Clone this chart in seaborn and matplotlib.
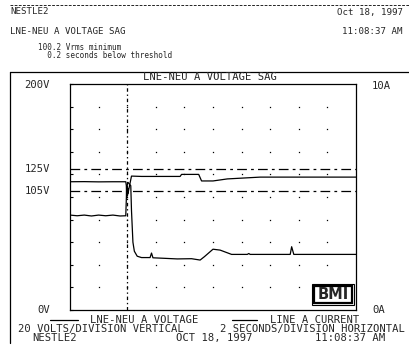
import numpy as np
import matplotlib
matplotlib.use("Agg")
import matplotlib.pyplot as plt
import seaborn as sns
from matplotlib.lines import Line2D
from matplotlib.patches import Rectangle
import matplotlib.transforms as mtransforms

# ---------------- data ----------------
time_v = [0, 1, 2, 3, 3.9, 3.94, 3.96, 3.98, 4.0, 4.01, 4.02, 4.03, 4.04, 4.05, 4.07, 4.1,
          4.3, 5, 7.7, 7.8, 9.0, 9.2, 10.0, 11.0, 13.3, 20]
volts = [113.5, 113.6, 113.4, 113.5, 113.5, 110, 100.2, 110, 101, 109, 102, 108, 103, 107,
         104, 106, 118.5, 118.2, 118.2, 120.0, 120.0, 114.2, 114.2, 116, 117.6, 117.6]

time_a = [0, 0.5, 1, 1.5, 2, 2.5, 3, 3.5, 3.9, 3.97, 4.05, 4.25, 4.3, 4.4, 4.5, 4.7, 5.0, 5.6,
          5.7, 5.8, 6.5, 7.5, 8.5, 9.1, 9.4, 10.0, 10.5, 11.3, 12.4, 12.5, 12.6, 15.4, 15.5,
          15.65, 17, 20]
amps = [4.2, 4.17, 4.2, 4.16, 4.2, 4.17, 4.2, 4.16, 4.17, 5.5, 5.65, 5.5, 4.4, 3.0, 2.6, 2.38,
        2.32, 2.32, 2.52, 2.31, 2.29, 2.26, 2.27, 2.21, 2.36, 2.69, 2.65, 2.46, 2.46, 2.5, 2.46,
        2.46, 2.80, 2.46, 2.46, 2.46]

volt_ticks = [200, 125, 105, 0]
volt_tick_labels = ["200V", "125V", "105V", "0V"]
amp_ticks = [10, 0]
amp_tick_labels = ["10A", "0A"]
threshold_high = 125
threshold_low = 105
trigger_time = 4.0

header_site = "NESTLE2"
header_date = "Oct 18, 1997"
header_title = "LNE-NEU A VOLTAGE SAG"
header_time = "11:08:37 AM"
summary_lines = ["100.2 Vrms minimum", "  0.2 seconds below threshold"]
chart_title = "LNE-NEU A VOLTAGE SAG"
legend_labels = ["LNE-NEU A VOLTAGE", "LINE A CURRENT"]
scale_v = "20 VOLTS/DIVISION VERTICAL"
scale_h = "2 SECONDS/DIVISION HORIZONTAL"
footer = ["NESTLE2", "OCT 18, 1997", "11:08:37 AM"]

# ---------------- figure ----------------
sns.set_style("white")
plt.rcParams["font.family"] = ["DejaVu Sans Mono", "DejaVu Sans"]
plt.rcParams["lines.scale_dashes"] = False

W, H = 409, 351
fig = plt.figure(figsize=(W / 100, H / 100), dpi=100)
fig.patch.set_facecolor("white")


def fx(x):
    return x / W


def fy(y):
    return 1 - y / H


L, R, T, B = 70, 356, 84, 310
ax = fig.add_axes([fx(L), fy(B), (R - L) / W, (B - T) / H])
ax.set_xlim(0, 20)
ax.set_ylim(0, 200)

sns.lineplot(x=time_v, y=volts, ax=ax, color="black", lw=0.9, estimator=None, sort=False)
ax.axhline(threshold_high, color="black", lw=0.9, dashes=(7, 3, 2, 3))
ax.axhline(threshold_low, color="black", lw=0.9, dashes=(7, 3, 2, 3))
ax.axvline(trigger_time, color="black", lw=0.9, dashes=(2.5, 2, 1, 2))

gx, gy = np.meshgrid(np.arange(2, 20, 2), np.arange(20, 200, 20))
ax.plot(gx.ravel(), gy.ravel(), linestyle="none", marker="s", markersize=0.9,
        markeredgewidth=0, color="black")

ax.set_xticks(np.arange(0, 21, 2))
ax.set_yticks(np.arange(0, 201, 20))
ax.tick_params(direction="in", length=2.5, width=0.8, top=True, right=True,
               labelleft=False, labelbottom=False, color="black")
for s in ax.spines.values():
    s.set_visible(True)
    s.set_color("black")
    s.set_linewidth(0.9)

ax2 = ax.twinx()
ax2.set_ylim(0, 10)
sns.lineplot(x=time_a, y=amps, ax=ax2, color="black", lw=0.9, estimator=None, sort=False)
ax2.set_yticks([])
ax2.set_xticks([])
ax2.set_ylabel("")
for s in ax2.spines.values():
    s.set_visible(False)
ax.set_xlabel("")
ax.set_ylabel("")

fs_chart = 7.6
trans_v = mtransforms.blended_transform_factory(fig.transFigure, ax.transData)
for v, lab in zip(volt_ticks, volt_tick_labels):
    off = -1.5 if v == 200 else 0
    ax.text(fx(50), v + off * 200 / 226, lab, transform=trans_v, ha="right", va="center",
            fontsize=fs_chart)
trans_a = mtransforms.blended_transform_factory(fig.transFigure, ax2.transData)
for v, lab in zip(amp_ticks, amp_tick_labels):
    off = -0.07 if v == 10 else 0
    ax2.text(fx(372), v + off, lab, transform=trans_a, ha="left", va="center", fontsize=fs_chart)

# BMI logo
ax.add_patch(Rectangle((0.845, 0.022), 0.148, 0.095, transform=ax.transAxes, fc="white",
                       ec="black", lw=0.8, zorder=5))
ax.add_patch(Rectangle((0.853, 0.033), 0.132, 0.073, transform=ax.transAxes, fc="white",
                       ec="black", lw=1.6, zorder=6))
ax.text(0.919, 0.07, "BMI", transform=ax.transAxes, ha="center", va="center",
        fontsize=10.5, fontweight="bold", family="DejaVu Sans", zorder=7)

# frame lines
fig.add_artist(Line2D([fx(10), fx(10)], [fy(72), fy(343)], color="black", lw=0.9))
fig.add_artist(Line2D([fx(10), fx(409)], [fy(72), fy(72)], color="black", lw=0.9))
fig.add_artist(Line2D([fx(10), fx(409)], [fy(5), fy(5)], color="black", lw=0.6,
                      dashes=(2, 1)))

# header
fs_head = 6.6
fig.text(fx(10), fy(12), header_site, ha="left", va="center", fontsize=fs_head)
fig.text(fx(403), fy(12), header_date, ha="right", va="center", fontsize=fs_head)
fig.text(fx(10), fy(31), header_title, ha="left", va="center", fontsize=fs_head)
fig.text(fx(403), fy(31), header_time, ha="right", va="center", fontsize=fs_head)
fig.text(fx(38), fy(47), summary_lines[0], ha="left", va="center", fontsize=5.5)
fig.text(fx(38), fy(55), summary_lines[1], ha="left", va="center", fontsize=5.5)

fig.text(fx(210), fy(77.5), chart_title, ha="center", va="center", fontsize=fs_chart)

# legend
fig.add_artist(Line2D([fx(50), fx(78)], [fy(320), fy(320)], color="black", lw=0.9))
fig.text(fx(90), fy(320), legend_labels[0], ha="left", va="center", fontsize=fs_chart)
fig.add_artist(Line2D([fx(232), fx(257)], [fy(320), fy(320)], color="black", lw=0.9))
fig.text(fx(270), fy(320), legend_labels[1], ha="left", va="center", fontsize=fs_chart)

fig.text(fx(18), fy(329), scale_v, ha="left", va="center", fontsize=fs_chart)
fig.text(fx(405), fy(329), scale_h, ha="right", va="center", fontsize=fs_chart)
fig.text(fx(32), fy(338), footer[0], ha="left", va="center", fontsize=fs_chart)
fig.text(fx(214), fy(338), footer[1], ha="center", va="center", fontsize=fs_chart)
fig.text(fx(385), fy(338), footer[2], ha="right", va="center", fontsize=fs_chart)

fig.savefig("out.png", dpi=100, facecolor="white")
